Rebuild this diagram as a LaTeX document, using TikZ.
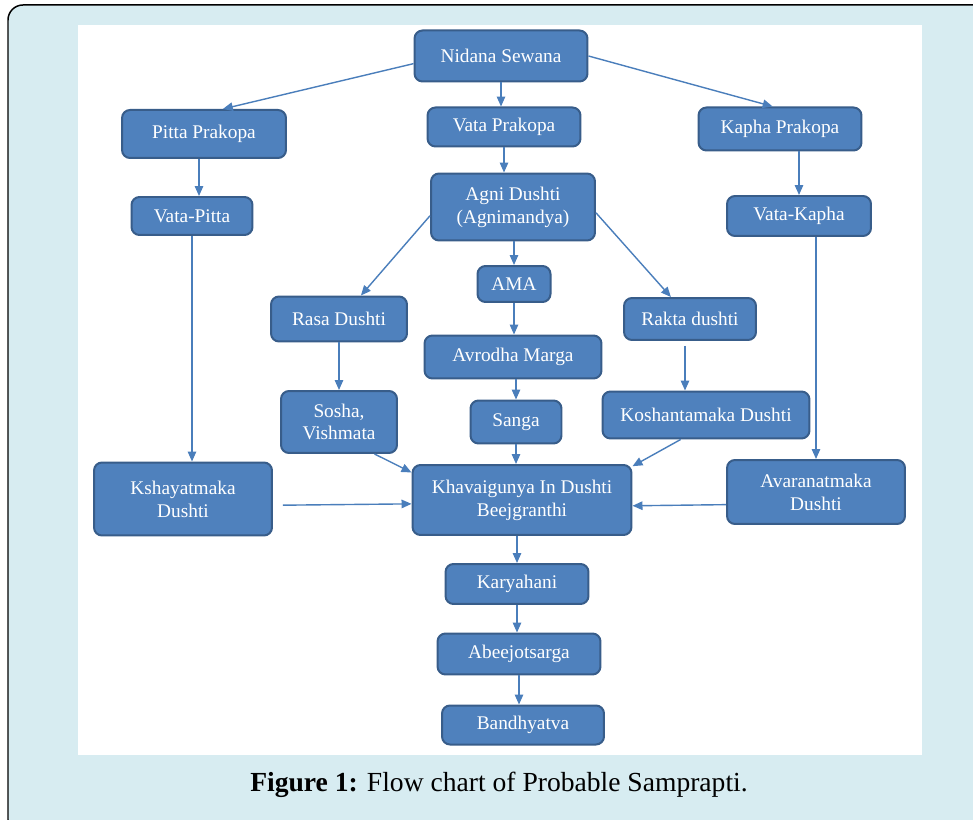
\documentclass[tikz,border=0pt]{standalone}
\usepackage{fontspec}
\setmainfont{Liberation Serif}
\usepackage{xcolor}
\usepackage{tikz}
\usetikzlibrary{arrows.meta}
\definecolor{boxfill}{HTML}{4F81BD}
\definecolor{boxline}{HTML}{385D8A}
\definecolor{arrowblue}{HTML}{4A7EBB}
\definecolor{panelblue}{HTML}{D7ECF1}

\begin{document}
\begin{tikzpicture}[x=0.02cm, y=-0.02cm,
    box/.style={draw=boxline, fill=boxfill, line width=0.04cm, rounded corners=0.16cm,
      text=white, align=center, inner sep=0pt, font=\fontsize{11}{13}\selectfont},
    arr/.style={draw=arrowblue, line width=0.028cm, -{Triangle[length=0.2cm,width=0.17cm]}}]
            \useasboundingbox (0,0) rectangle (973,820);

            % Panel and white drawing area
            \draw [fill=panelblue, line width=0.03cm, rounded corners=0.3cm] (8,5) rectangle (990,835);%
            \fill [white] (78,25) rectangle (922,755);%

            % Top row
            \node [box, minimum width=3.46cm, minimum height=1.02cm] (nidana) at (501,56) {Nidana Sewana};%
            \node [box, minimum width=3.28cm, minimum height=0.96cm] (pitta) at (204,134) {Pitta Prakopa};%
            \node [box, minimum width=3.06cm, minimum height=0.78cm] (vata) at (504,127) {Vata Prakopa};%
            \node [box, minimum width=3.26cm, minimum height=0.86cm] (kapha) at (780,129) {Kapha Prakopa};%

            % Second row
            \node [box, minimum width=2.42cm, minimum height=0.76cm] (vatapitta) at (192,216) {Vata-Pitta};%
            \node [box, minimum width=3.28cm, minimum height=1.34cm] (agni) at (513,207) {Agni Dushti\\(Agnimandya)};%
            \node [box, minimum width=2.88cm, minimum height=0.80cm] (vatakapha) at (799,216) {Vata-Kapha};%

            % Middle block
            \node [box, minimum width=1.46cm, minimum height=0.72cm] (ama) at (514,284) {AMA};%
            \node [box, minimum width=2.72cm, minimum height=0.90cm] (rasa) at (339,319) {Rasa Dushti};%
            \node [box, minimum width=2.64cm, minimum height=0.84cm] (rakta) at (690,319) {Rakta dushti};%
            \node [box, minimum width=3.54cm, minimum height=0.86cm] (avrodha) at (513,357) {Avrodha Marga};%
            \node [box, minimum width=2.32cm, minimum height=1.24cm] (sosha) at (339,422) {Sosha,\\Vishmata};%
            \node [box, minimum width=1.82cm, minimum height=0.86cm] (sanga) at (516,422) {Sanga};%
            \node [box, minimum width=4.14cm, minimum height=0.94cm] (koshanta) at (706,415) {Koshantamaka Dushti};%

            % Joining row
            \node [box, minimum width=3.56cm, minimum height=1.46cm] (kshaya) at (183,499) {Kshayatmaka\\Dushti};%
            \node [box, minimum width=4.38cm, minimum height=1.40cm] (khava) at (522,500) {Khavaigunya In Dushti\\Beejgranthi};%
            \node [box, minimum width=3.56cm, minimum height=1.28cm] (avarana) at (816,492) {Avaranatmaka\\Dushti};%

            % Bottom chain
            \node [box, minimum width=2.86cm, minimum height=0.80cm] (karya) at (517,584) {Karyahani};%
            \node [box, minimum width=3.26cm, minimum height=0.82cm] (abeej) at (519,654) {Abeejotsarga};%
            \node [box, minimum width=3.24cm, minimum height=0.78cm] (bandhya) at (523,725) {Bandhyatva};%

            % Drawing arrows from Nidana Sewana
            \draw [arr] (nidana.185) -- (pitta.53);%
            \draw [arr] (nidana.south) -- (nidana.south |- vata.north);%
            \draw [arr] (nidana.east) -- (kapha.108);%

            % Drawing arrows of the three Prakopa
            \draw [arr] ([xshift=-0.1cm]pitta.south) -- ([xshift=-0.1cm]pitta.south |- vatapitta.north);%
            \draw [arr] (vata.south) -- (vata.south |- agni.north);%
            \draw [arr] (vatakapha.north |- kapha.south) -- (vatakapha.north);%

            % Drawing arrows from Agni Dushti
            \draw [arr] (agni.186) -- (rasa.47);%
            \draw [arr] (ama.north |- agni.south) -- (ama.north);%
            \draw [arr] (agni.356) -- (rakta.131);%

            % Drawing arrows of the middle block
            \draw [arr] (ama.south) -- (ama.south |- avrodha.north);%
            \draw [arr] (sanga.north |- avrodha.south) -- (sanga.north);%
            \draw [arr] (rasa.south) -- (rasa.south |- sosha.north);%
            \draw [arr, shorten <=0.1cm] ([xshift=-0.1cm]rakta.south) -- ([xshift=-0.1cm]rakta.south |- koshanta.north);%
            \draw [arr] (vatapitta.south) -- (vatapitta.south |- kshaya.north);%
            \draw [arr] (avarana.north |- vatakapha.south) -- (avarana.north);%

            % Drawing arrows into Khavaigunya
            \draw [arr] (sosha.318) -- (khava.166);%
            \draw [arr] (sanga.south) -- (sanga.south |- khava.north);%
            \draw [arr] (koshanta.224) -- (khava.17);%
            \draw [arr, shorten <=0.2cm] (kshaya.356) -- (khava.182);%
            \draw [arr] (avarana.188) -- (khava.357);%

            % Drawing bottom chain
            \draw [arr] (karya.north |- khava.south) -- (karya.north);%
            \draw [arr] (karya.south) -- (karya.south |- abeej.north);%
            \draw [arr] (abeej.south) -- (abeej.south |- bandhya.north);%

            % Caption
            \node [font=\fontsize{15.7}{18}\selectfont] (caption) at (499,785) {\textbf{Figure 1:} Flow chart of Probable Samprapti.};%
\end{tikzpicture}
\end{document}
